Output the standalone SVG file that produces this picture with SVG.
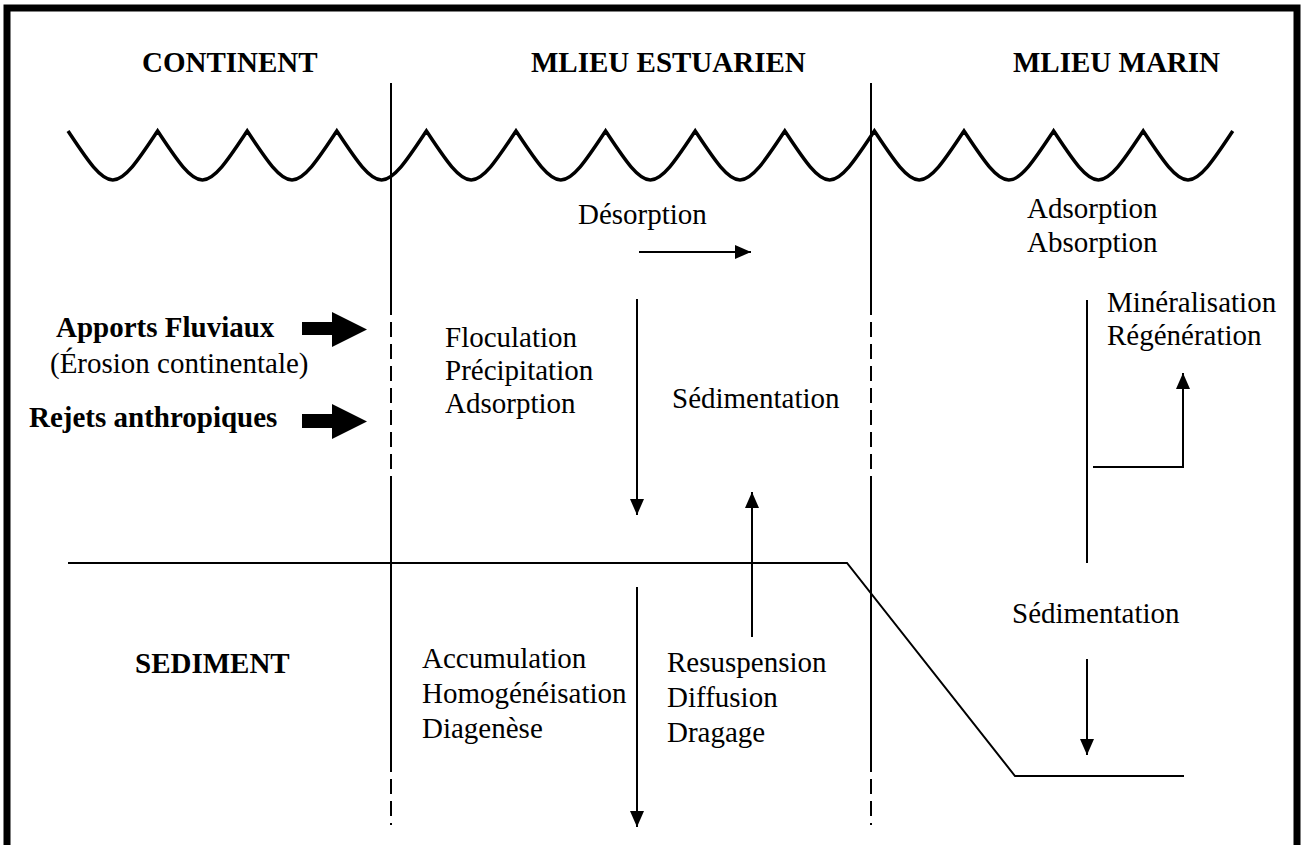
<svg xmlns="http://www.w3.org/2000/svg" width="1306" height="845" viewBox="0 0 1306 845">
  <style>
    text { font-family: "Liberation Serif", Tinos, "Times New Roman", Times, serif; font-size: 29px; fill: #000; }
    .b { font-weight: bold; }
    .ln { fill: none; stroke: #000; stroke-width: 2; }
    .dash { fill: none; stroke: #000; stroke-width: 2; stroke-dasharray: 15 7; }
    .arr { fill: none; stroke: #000; stroke-width: 2; marker-end: url(#head); }
    .blk { fill: #000; stroke: none; }
  </style>
  <defs>
    <marker id="head" viewBox="0 0 16 14" refX="16" refY="7" markerWidth="16" markerHeight="14" markerUnits="userSpaceOnUse" orient="auto">
      <path d="M0,0 L16,7 L0,14 Z" fill="#000"/>
    </marker>
  </defs>

  <rect width="1306" height="845" fill="#fff"/>

  <!-- outer frame (open at the bottom) -->
  <g id="frame" fill="none" stroke="#000" stroke-width="7">
    <path d="M7,845 V8 H1297 V845"/>
  </g>

  <!-- water surface -->
  <g id="surface">
    <path fill="none" stroke="#000" stroke-width="3.5" stroke-linejoin="miter"
      d="M68,131 c18,27 32,49 44.8,49 c12.8,0 26.8,-22 44.8,-49 c18,27 32,49 44.8,49 c12.8,0 26.8,-22 44.8,-49 c18,27 32,49 44.8,49 c12.8,0 26.8,-22 44.8,-49 c18,27 32,49 44.8,49 c12.8,0 26.8,-22 44.8,-49 c18,27 32,49 44.8,49 c12.8,0 26.8,-22 44.8,-49 c18,27 32,49 44.8,49 c12.8,0 26.8,-22 44.8,-49 c18,27 32,49 44.8,49 c12.8,0 26.8,-22 44.8,-49 c18,27 32,49 44.8,49 c12.8,0 26.8,-22 44.8,-49 c18,27 32,49 44.8,49 c12.8,0 26.8,-22 44.8,-49 c18,27 32,49 44.8,49 c12.8,0 26.8,-22 44.8,-49 c18,27 32,49 44.8,49 c12.8,0 26.8,-22 44.8,-49 c18,27 32,49 44.8,49 c12.8,0 26.8,-22 44.8,-49 c18,27 32,49 44.8,49 c12.8,0 26.8,-22 44.8,-49"/>
  </g>

  <!-- zone boundaries -->
  <g id="boundaries">
    <line class="ln" x1="391" y1="83" x2="391" y2="300"/>
    <line class="dash" x1="391" y1="300" x2="391" y2="490"/>
    <line class="ln" x1="391" y1="490" x2="391" y2="757"/>
    <line class="dash" x1="391" y1="757" x2="391" y2="825"/>
    <line class="ln" x1="871" y1="83" x2="871" y2="300"/>
    <line class="dash" x1="871" y1="300" x2="871" y2="490"/>
    <line class="ln" x1="871" y1="490" x2="871" y2="757"/>
    <line class="dash" x1="871" y1="757" x2="871" y2="825"/>
  </g>

  <!-- sediment / water interface -->
  <g id="seabed">
    <path class="ln" d="M68,563 H847 L1015,776 H1184"/>
  </g>

  <!-- zone titles -->
  <g id="title-continent"><text class="b" x="142" y="72">CONTINENT</text></g>
  <g id="title-estuaire"><text class="b" x="531" y="72">MLIEU ESTUARIEN</text></g>
  <g id="title-marin"><text class="b" x="1013" y="72">MLIEU MARIN</text></g>
  <g id="title-sediment"><text class="b" x="135" y="673">SEDIMENT</text></g>

  <!-- inputs -->
  <g id="apports">
    <text class="b" x="56" y="337">Apports Fluviaux</text>
    <text x="50" y="373">(Érosion continentale)</text>
  </g>
  <g id="rejets">
    <text class="b" x="29" y="427">Rejets anthropiques</text>
  </g>

  <!-- processes -->
  <g id="desorption"><text x="578" y="224">Désorption</text></g>
  <g id="floculation">
    <text x="445" y="347">Floculation</text>
    <text x="445" y="380">Précipitation</text>
    <text x="445" y="413">Adsorption</text>
  </g>
  <g id="sedimentation-estuaire"><text x="672" y="408">Sédimentation</text></g>
  <g id="accumulation">
    <text x="422" y="668">Accumulation</text>
    <text x="422" y="703">Homogénéisation</text>
    <text x="422" y="738">Diagenèse</text>
  </g>
  <g id="resuspension">
    <text x="667" y="672">Resuspension</text>
    <text x="667" y="707">Diffusion</text>
    <text x="667" y="742">Dragage</text>
  </g>
  <g id="adsorption-marin">
    <text x="1027" y="218">Adsorption</text>
    <text x="1027" y="252">Absorption</text>
  </g>
  <g id="mineralisation">
    <text x="1107" y="312">Minéralisation</text>
    <text x="1107" y="345">Régénération</text>
  </g>
  <g id="sedimentation-marin"><text x="1012" y="623">Sédimentation</text></g>

  <!-- flows -->
  <g id="connectors">
    <path class="blk" d="M302,322 H332 V312 L367,329.5 L332,347 V335 H302 Z"/>
    <path class="blk" d="M302,414 H332 V404 L367,421.5 L332,439 V428 H302 Z"/>
    <line class="arr" x1="639" y1="252" x2="751" y2="252"/>
    <line class="arr" x1="637" y1="299" x2="637" y2="515"/>
    <line class="arr" x1="752" y1="637" x2="752" y2="492"/>
    <line class="arr" x1="637" y1="587" x2="637" y2="827"/>
    <line class="ln" x1="1087" y1="300" x2="1087" y2="563"/>
    <path class="arr" d="M1093,467 H1183 V373"/>
    <line class="arr" x1="1087" y1="659" x2="1087" y2="755"/>
  </g>
</svg>
